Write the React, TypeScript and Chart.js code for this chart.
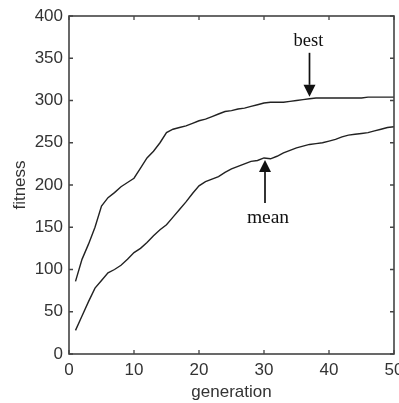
import React, { useEffect, useRef } from "react";
import { Chart, registerables } from "chart.js";

Chart.register(...registerables);

const generations = Array.from({ length: 50 }, (_, i) => i + 1);
const bestValues = [86, 112, 130, 150, 175, 185, 191, 198, 203, 208, 220, 232, 240, 250, 262, 266, 268, 270, 273, 276, 278, 281, 284, 287, 288, 290, 291, 293, 295, 297, 298, 298, 298, 299, 300, 301, 302, 303, 303, 303, 303, 303, 303, 303, 303, 304, 304, 304, 304, 304];
const meanValues = [28, 45, 62, 78, 87, 96, 100, 105, 112, 120, 125, 132, 140, 147, 153, 162, 171, 180, 190, 199, 204, 207, 210, 215, 219, 222, 225, 228, 229, 232, 231, 234, 238, 241, 244, 246, 248, 249, 250, 252, 254, 257, 259, 260, 261, 262, 264, 266, 268, 269];
const xTicks = [0, 10, 20, 30, 40, 50];
const yTicks = [0, 50, 100, 150, 200, 250, 300, 350, 400];
const bestLabel = "best";
const meanLabel = "mean";
const bestArrowGen = 37;
const meanArrowGen = 30;

const framePlugin = {
  id: "frame",
  afterDatasetsDraw(chart: any) {
    const { ctx, chartArea, scales } = chart;
    const { left, right, top, bottom } = chartArea;
    ctx.save();
    ctx.strokeStyle = "#444";
    ctx.lineWidth = 1.6;
    ctx.strokeRect(left, top, right - left, bottom - top);
    ctx.lineWidth = 1.3;
    const t = 4;
    ctx.beginPath();
    xTicks.forEach((v) => {
      const x = scales.x.getPixelForValue(v);
      ctx.moveTo(x, bottom);
      ctx.lineTo(x, bottom - t);
      ctx.moveTo(x, top);
      ctx.lineTo(x, top + t);
    });
    yTicks.forEach((v) => {
      const y = scales.y.getPixelForValue(v);
      ctx.moveTo(left, y);
      ctx.lineTo(left + t, y);
      ctx.moveTo(right, y);
      ctx.lineTo(right - t, y);
    });
    ctx.stroke();

    const drawArrow = (x: number, tipY: number, tailY: number) => {
      const dir = tipY > tailY ? 1 : -1;
      const headLen = 12;
      ctx.strokeStyle = "#111";
      ctx.fillStyle = "#111";
      ctx.lineWidth = 1.7;
      ctx.beginPath();
      ctx.moveTo(x, tailY);
      ctx.lineTo(x, tipY - dir * headLen);
      ctx.stroke();
      ctx.beginPath();
      ctx.moveTo(x, tipY);
      ctx.lineTo(x - 6, tipY - dir * headLen);
      ctx.lineTo(x + 6, tipY - dir * headLen);
      ctx.closePath();
      ctx.fill();
    };

    ctx.textAlign = "center";
    ctx.textBaseline = "alphabetic";
    ctx.fillStyle = "#111";

    const bx = scales.x.getPixelForValue(bestArrowGen);
    const by = scales.y.getPixelForValue(bestValues[bestArrowGen - 1]);
    drawArrow(bx, by - 2, by - 46);
    ctx.fillStyle = "#111";
    ctx.font = "18.5px 'Liberation Serif', 'Times New Roman', serif";
    ctx.fillText(bestLabel, bx - 1, by - 53);

    const mx = scales.x.getPixelForValue(meanArrowGen);
    const my = scales.y.getPixelForValue(meanValues[meanArrowGen - 1]);
    drawArrow(mx + 1, my + 2, my + 45);
    ctx.fillStyle = "#111";
    ctx.font = "19.5px 'Liberation Serif', 'Times New Roman', serif";
    ctx.fillText(meanLabel, mx + 4, my + 65);
    ctx.restore();
  },
};

export default function App() {
  const ref = useRef<HTMLCanvasElement | null>(null);
  useEffect(() => {
    document.body.style.margin = "0";
    const tickFont = { family: "'Liberation Sans', Arial, sans-serif", size: 17 };
    const chart = new Chart(ref.current!, {
      type: "line",
      data: {
        labels: generations,
        datasets: [
          {
            data: generations.map((g, i) => ({ x: g, y: bestValues[i] })),
            borderColor: "#222",
            borderWidth: 1.4,
            pointRadius: 0,
            tension: 0,
          },
          {
            data: generations.map((g, i) => ({ x: g, y: meanValues[i] })),
            borderColor: "#222",
            borderWidth: 1.4,
            pointRadius: 0,
            tension: 0,
          },
        ],
      },
      options: {
        animation: false,
        responsive: false,
        layout: { padding: { top: 16, right: 5, left: 0, bottom: 0 } },
        plugins: { legend: { display: false }, tooltip: { enabled: false } },
        scales: {
          x: {
            type: "linear",
            min: 0,
            max: 50,
            grid: { display: false, drawTicks: false },
            border: { display: false },
            ticks: { stepSize: 10, font: tickFont, color: "#333", padding: 6, maxRotation: 0 },
            title: { display: true, text: "generation", font: tickFont, color: "#333", padding: { top: 0, bottom: 0 } },
            afterFit: (s: any) => {
              s.height = 49;
              s.paddingRight = 0;
              s.paddingLeft = 0;
            },
          },
          y: {
            min: 0,
            max: 400,
            grid: { display: false, drawTicks: false },
            border: { display: false },
            ticks: { stepSize: 50, font: tickFont, color: "#333", padding: 6 },
            title: { display: true, text: "fitness", font: tickFont, color: "#333", padding: { top: 10, bottom: 0 } },
            afterFit: (s: any) => {
              s.width = 69;
              s.paddingTop = 0;
              s.paddingBottom = 0;
            },
          },
        },
      },
      plugins: [framePlugin],
    } as any);
    return () => chart.destroy();
  }, []);
  return (
    <div style={{ width: 399, height: 403, background: "#fff" }}>
      <canvas ref={ref} width={399} height={403} style={{ display: "block" }} />
    </div>
  );
}
